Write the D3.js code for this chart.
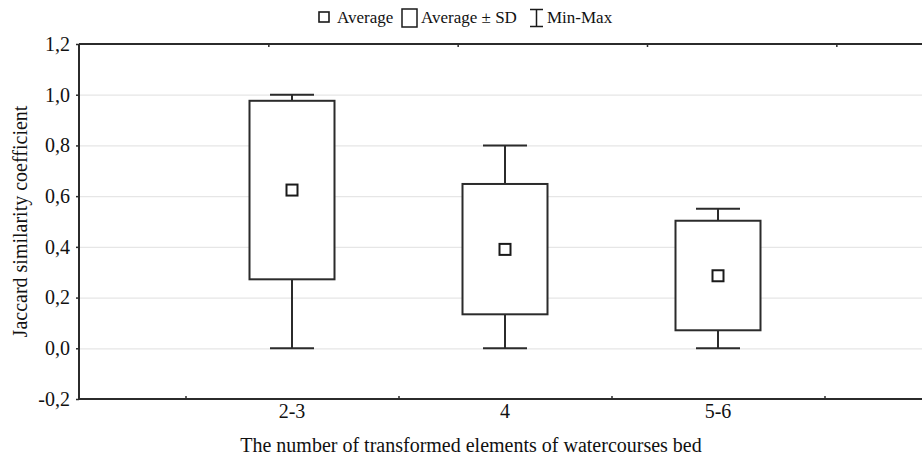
<!DOCTYPE html>
<html><head><meta charset="utf-8">
<script src="https://cdn.jsdelivr.net/npm/d3@7"></script>
<style>body{margin:0;background:#fff}svg{display:block}svg text{font-family:"Liberation Serif","Times New Roman",serif !important}</style>
</head><body>
<svg id="c" width="922" height="461"></svg>
<script>
const categories = ["2-3", "4", "5-6"];
const means = [0.624, 0.390, 0.286];
const sdLow = [0.272, 0.134, 0.071];
const sdHigh = [0.976, 0.648, 0.503];
const minVals = [0.0, 0.0, 0.0];
const maxVals = [1.0, 0.8, 0.55];
const yTicks = [-0.2, 0, 0.2, 0.4, 0.6, 0.8, 1.0, 1.2];
const yGrid = [0, 0.2, 0.4, 0.6, 0.8, 1.0];
const xTicks = [0.5, 1.5, 2.5, 3.5];
const topTicks = [1, 2, 3, 4];

const svg = d3.select("#c");
const L = 79, R = 931, T = 44, B = 399;
const x = d3.scaleLinear().domain([0, 4]).range([L, R]);
const xTop = d3.scaleLinear().domain([0, 4.5]).range([L, R]);
const y = d3.scaleLinear().domain([-0.2, 1.2]).range([B, T]);
const ink = "#2b2b2b";

// gridlines
svg.append("g").selectAll("line").data(yGrid).join("line")
  .attr("x1", L).attr("x2", 922).attr("y1", d => y(d) + 0.5).attr("y2", d => y(d) + 0.5)
  .attr("stroke", "#e6e6e6").attr("stroke-width", 1.2);

// axes
const fmt = d => d3.format(".1f")(d).replace(".", ",").replace("−", "-");
const gy = svg.append("g").attr("transform", `translate(${L},0)`)
  .call(d3.axisLeft(y).tickValues(yTicks).tickFormat(fmt).tickSize(3).tickPadding(6));
gy.select(".domain").remove();
gy.selectAll("line").attr("stroke", ink).attr("stroke-width", 1.5);
gy.selectAll("text").attr("font-size", 20).attr("fill", "#111");

const gx = svg.append("g").attr("transform", `translate(0,${B})`)
  .call(d3.axisBottom(x).tickValues(xTicks).tickSize(-3).tickFormat(""));
gx.select(".domain").remove();
gx.selectAll("line").attr("stroke", ink).attr("stroke-width", 1.5);

const gt = svg.append("g").attr("transform", `translate(0,${T})`)
  .call(d3.axisTop(xTop).tickValues(topTicks).tickSize(-3).tickFormat(""));
gt.select(".domain").remove();
gt.selectAll("line").attr("stroke", ink).attr("stroke-width", 1.5);

// frame lines (left, top, bottom)
svg.append("path").attr("d", `M${L},${T}H922M${L},${T}V${B}M${L},${B}H922`)
  .attr("fill", "none").attr("stroke", ink).attr("stroke-width", 2);

// category labels
svg.append("g").selectAll("text").data(categories).join("text")
  .attr("x", (d, i) => x(i + 1)).attr("y", 418).attr("text-anchor", "middle")
  .attr("font-size", 20).attr("fill", "#111").text(d => d);

// boxes
const boxHalf = 42.5, capHalf = 22, ms = 11;
const g = svg.append("g").selectAll("g").data(categories).join("g");
g.append("line").attr("x1", (d, i) => x(i + 1)).attr("x2", (d, i) => x(i + 1))
  .attr("y1", (d, i) => y(maxVals[i])).attr("y2", (d, i) => y(minVals[i]))
  .attr("stroke", ink).attr("stroke-width", 2);
g.append("line").attr("x1", (d, i) => x(i + 1) - capHalf).attr("x2", (d, i) => x(i + 1) + capHalf)
  .attr("y1", (d, i) => y(maxVals[i])).attr("y2", (d, i) => y(maxVals[i]))
  .attr("stroke", ink).attr("stroke-width", 2);
g.append("line").attr("x1", (d, i) => x(i + 1) - capHalf).attr("x2", (d, i) => x(i + 1) + capHalf)
  .attr("y1", (d, i) => y(minVals[i])).attr("y2", (d, i) => y(minVals[i]))
  .attr("stroke", ink).attr("stroke-width", 2);
g.append("rect").attr("x", (d, i) => x(i + 1) - boxHalf).attr("width", boxHalf * 2)
  .attr("y", (d, i) => y(sdHigh[i])).attr("height", (d, i) => y(sdLow[i]) - y(sdHigh[i]))
  .attr("fill", "#fff").attr("stroke", ink).attr("stroke-width", 2);
g.append("rect").attr("x", (d, i) => x(i + 1) - ms / 2).attr("width", ms)
  .attr("y", (d, i) => y(means[i]) - ms / 2).attr("height", ms)
  .attr("fill", "#fff").attr("stroke", "#1a1a1a").attr("stroke-width", 2);

// axis titles
svg.append("text").attr("transform", `translate(27,${(T + B) / 2}) rotate(-90)`)
  .attr("text-anchor", "middle").attr("font-size", 20).attr("fill", "#111")
  .text("Jaccard similarity coefficient");
svg.append("text").attr("x", 471).attr("y", 452).attr("text-anchor", "middle")
  .attr("font-size", 20).attr("fill", "#111")
  .text("The number of transformed elements of watercourses bed");

// legend
const lg = svg.append("g").attr("font-size", 17).attr("fill", "#111");
lg.append("rect").attr("x", 319).attr("y", 12).attr("width", 10).attr("height", 10)
  .attr("fill", "#fff").attr("stroke", "#1a1a1a").attr("stroke-width", 1.6);
lg.append("text").attr("x", 337).attr("y", 23).text("Average");
lg.append("rect").attr("x", 402).attr("y", 9).attr("width", 15).attr("height", 18)
  .attr("fill", "#fff").attr("stroke", "#1a1a1a").attr("stroke-width", 1.5);
lg.append("text").attr("x", 421).attr("y", 23).text("Average ± SD");
lg.append("path").attr("d", "M530,9.5H543M536.5,9.5V26.5M530,26.5H543")
  .attr("fill", "none").attr("stroke", "#1a1a1a").attr("stroke-width", 1.5);
lg.append("text").attr("x", 547).attr("y", 23).text("Min-Max");
</script>
</body></html>
